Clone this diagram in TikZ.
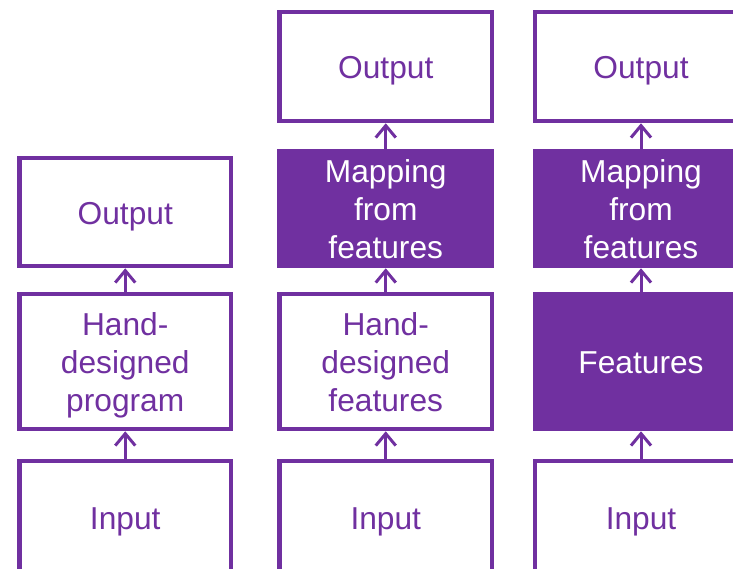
\documentclass[tikz,border=0pt]{standalone}
\usepackage{fontspec}
\setmainfont{Liberation Sans}
\usetikzlibrary{arrows.meta}
\definecolor{plum}{HTML}{7030A0}
% line strut: every text line gets the same height and depth
\newcommand\lnstrut{\rule[-7pt]{0pt}{38pt}}
\begin{document}
\begin{tikzpicture}[x=1pt,y=-1pt,
  box/.style={rectangle, draw=plum, line width=4.5pt, text=plum, align=center,
    inner sep=0pt, font=\fontsize{31.7}{38}\selectfont},
  solidbox/.style={box, fill=plum, text=white},
  link/.style={draw=plum, line width=3pt, -{Straight Barb[length=12pt,width=20pt]}}]
\useasboundingbox (0,0) rectangle (733,568);
\clip (0,0) rectangle (733,568);

% column 1: hand-designed program
\node[box, minimum width=211.5, minimum height=108] (o1) at (125.25,212) {\lnstrut Output};
\node[box, minimum width=211.5, minimum height=135] (h1) at (125.25,361.5)
  {\lnstrut Hand-\\\lnstrut designed\\\lnstrut program};
\node[box, minimum width=211.5, minimum height=112] (i1) at (125.25,517) {\lnstrut Input};

% column 2: hand-designed features
\node[box, minimum width=212.5, minimum height=109] (o2) at (385.75,66.5) {\lnstrut Output};
\node[solidbox, minimum width=212.5, minimum height=115] (m2) at (385.75,208.5)
  {\lnstrut Mapping\\\lnstrut from\\\lnstrut features};
\node[box, minimum width=212.5, minimum height=135] (h2) at (385.75,361.5)
  {\lnstrut Hand-\\\lnstrut designed\\\lnstrut features};
\node[box, minimum width=212.5, minimum height=112] (i2) at (385.75,517) {\lnstrut Input};

% column 3: learned features
\node[box, minimum width=212, minimum height=109] (o3) at (641,66.5) {\lnstrut Output};
\node[solidbox, minimum width=212, minimum height=115] (m3) at (641,208.5)
  {\lnstrut Mapping\\\lnstrut from\\\lnstrut features};
\node[solidbox, minimum width=212, minimum height=135] (f3) at (641,361.5) {\lnstrut Features};
\node[box, minimum width=212, minimum height=112] (i3) at (641,517) {\lnstrut Input};

% connectors
\draw[link] (i1) -- (h1);
\draw[link] (h1) -- (o1);
\draw[link] (i2) -- (h2);
\draw[link] (h2) -- (m2);
\draw[link] (m2) -- (o2);
\draw[link] (i3) -- (f3);
\draw[link] (f3) -- (m3);
\draw[link] (m3) -- (o3);
\end{tikzpicture}
\end{document}
